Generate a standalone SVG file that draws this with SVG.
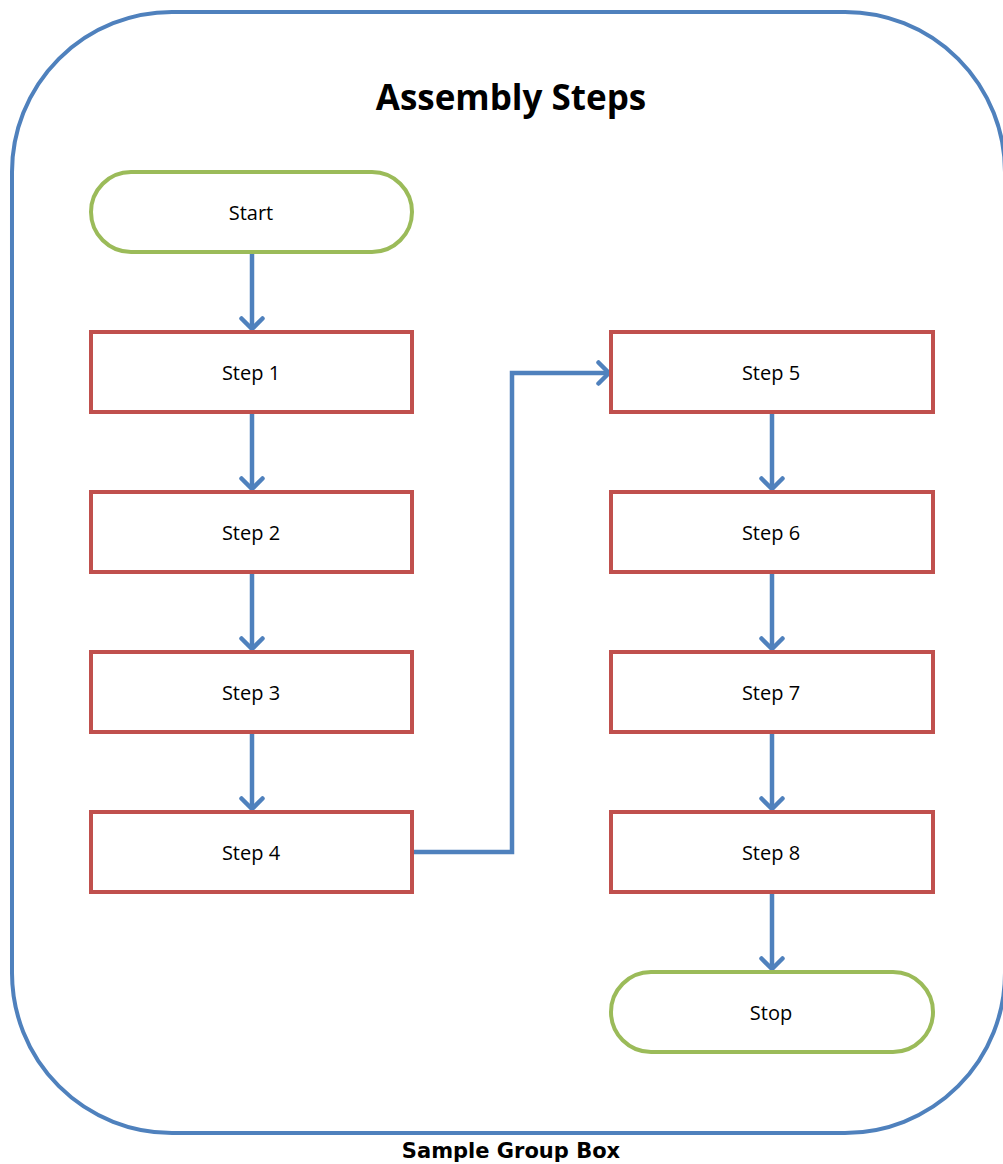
<svg xmlns="http://www.w3.org/2000/svg" width="1003" height="1164" viewBox="0 0 1003 1164">
<style>
.box{fill:#fff;stroke:#c0504d;stroke-width:4}
.term{fill:#fff;stroke:#9bbb59;stroke-width:4}
.lbl{font-family:"Open Sans","Noto Sans",sans-serif;font-size:20px;fill:#000;text-anchor:middle;dominant-baseline:central}
.conn{fill:none;stroke:#4f81bd;stroke-width:4.5}
</style>
<defs>
<marker id="arr" viewBox="0 0 16 26" refX="13" refY="13" markerWidth="16" markerHeight="26" markerUnits="userSpaceOnUse" orient="auto">
<path d="M2.5,2.5 L13,13 L2.5,23.5" fill="none" stroke="#4f81bd" stroke-width="4.5" stroke-linecap="round" stroke-linejoin="round"/>
</marker>
</defs>
<rect x="12" y="12" width="993" height="1121" rx="160" ry="160" fill="#fff" stroke="#4f81bd" stroke-width="4"/>
<text x="511" y="110" font-family="'Open Sans','Noto Sans',sans-serif" font-size="35" font-weight="bold" text-anchor="middle">Assembly Steps</text>
<text x="511" y="1158" font-family="'DejaVu Sans',Verdana,sans-serif" font-size="21" font-weight="bold" text-anchor="middle">Sample Group Box</text>
<g id="connectors">
<path class="conn" d="M252,252 V329" marker-end="url(#arr)"/>
<path class="conn" d="M252,412 V489" marker-end="url(#arr)"/>
<path class="conn" d="M252,572 V649" marker-end="url(#arr)"/>
<path class="conn" d="M252,732 V809" marker-end="url(#arr)"/>
<path class="conn" d="M412,852 H512 V373 H609" marker-end="url(#arr)"/>
<path class="conn" d="M772,412 V489" marker-end="url(#arr)"/>
<path class="conn" d="M772,572 V649" marker-end="url(#arr)"/>
<path class="conn" d="M772,732 V809" marker-end="url(#arr)"/>
<path class="conn" d="M772,892 V969" marker-end="url(#arr)"/>
</g>
<g id="start"><rect class="term" x="91" y="172" width="321" height="80" rx="40" ry="40"/><text class="lbl" x="251" y="212">Start</text></g>
<g id="step1"><rect class="box" x="91" y="332" width="321" height="80"/><text class="lbl" x="251" y="372">Step 1</text></g>
<g id="step2"><rect class="box" x="91" y="492" width="321" height="80"/><text class="lbl" x="251" y="532">Step 2</text></g>
<g id="step3"><rect class="box" x="91" y="652" width="321" height="80"/><text class="lbl" x="251" y="692">Step 3</text></g>
<g id="step4"><rect class="box" x="91" y="812" width="321" height="80"/><text class="lbl" x="251" y="852">Step 4</text></g>
<g id="step5"><rect class="box" x="611" y="332" width="322" height="80"/><text class="lbl" x="771" y="372">Step 5</text></g>
<g id="step6"><rect class="box" x="611" y="492" width="322" height="80"/><text class="lbl" x="771" y="532">Step 6</text></g>
<g id="step7"><rect class="box" x="611" y="652" width="322" height="80"/><text class="lbl" x="771" y="692">Step 7</text></g>
<g id="step8"><rect class="box" x="611" y="812" width="322" height="80"/><text class="lbl" x="771" y="852">Step 8</text></g>
<g id="stop"><rect class="term" x="611" y="972" width="322" height="80" rx="40" ry="40"/><text class="lbl" x="771" y="1012">Stop</text></g>
</svg>
